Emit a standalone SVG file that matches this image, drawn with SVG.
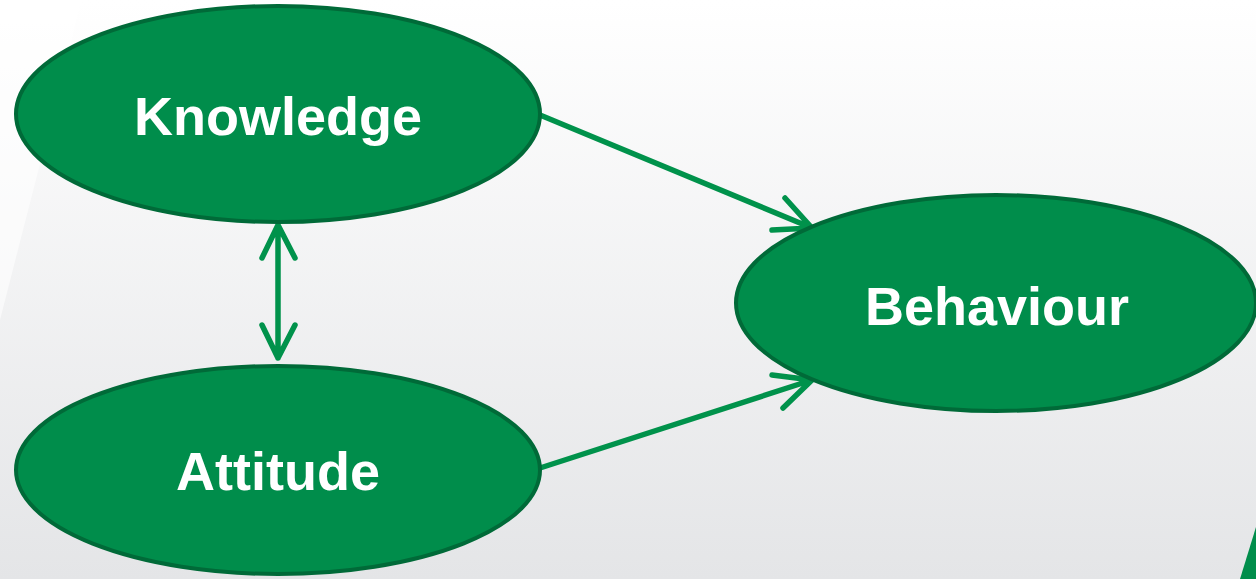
<svg xmlns="http://www.w3.org/2000/svg" width="1256" height="579" viewBox="0 0 1256 579">
<defs>
<linearGradient id="bg" x1="0" y1="0" x2="0" y2="1">
<stop offset="0" stop-color="#ffffff"/>
<stop offset="1" stop-color="#e4e5e7"/>
</linearGradient>
<style>
.node{fill:#008d4b;stroke:#006a38;stroke-width:4}
.lbl{font-family:"Liberation Sans",Arial,sans-serif;font-weight:bold;font-size:54px;fill:#ffffff;text-anchor:middle}
.con{fill:none;stroke:#00924b;stroke-width:5.5;stroke-linecap:round;stroke-linejoin:round}
</style>
</defs>
<rect width="1256" height="579" fill="url(#bg)"/>
<polygon points="0,0 82,0 0,320" fill="#ffffff" opacity="0.6"/>
<polygon points="1256,527 1240,579 1256,579" fill="#008d4b"/>
<g id="connectors">
<path class="con" d="M540,115 L812,228 M785,198 L812,228 L772,230"/>
<path class="con" d="M540,468 L812,380 M772,375 L812,380 L783,408"/>
<path class="con" d="M278,225 L278,358 M262,258 L278,225 L295,258 M262,325 L278,358 L295,325"/>
</g>
<g id="knowledge">
<ellipse class="node" cx="278" cy="114" rx="262" ry="108"/>
<text class="lbl" x="278" y="135">Knowledge</text>
</g>
<g id="attitude">
<ellipse class="node" cx="278" cy="470" rx="262" ry="104"/>
<text class="lbl" x="278" y="490">Attitude</text>
</g>
<g id="behaviour">
<ellipse class="node" cx="996" cy="303" rx="260" ry="108"/>
<text class="lbl" x="997" y="325">Behaviour</text>
</g>
</svg>
